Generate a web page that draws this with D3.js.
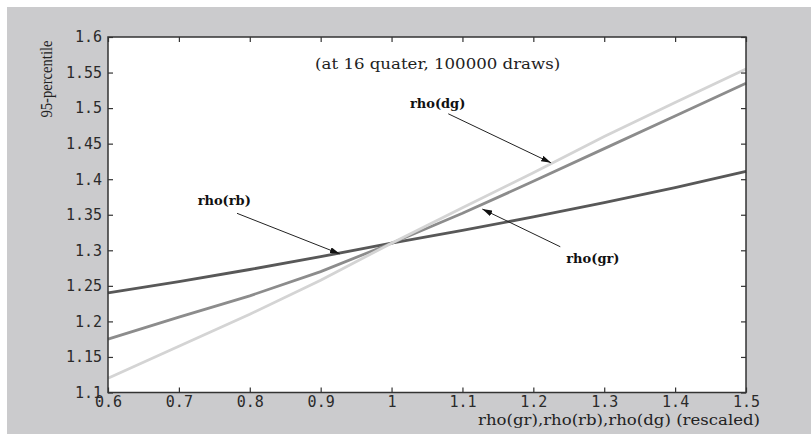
<!DOCTYPE html>
<html>
<head>
<meta charset="utf-8">
<script src="https://cdn.jsdelivr.net/npm/d3@7"></script>
<style>
	body { margin: 0; background: #fff; }
	svg { display: block; }
</style>
</head>
<body>
<div id="chart"></div>
<script>
// x positions (rescaled rho)
const xValues = [0.6, 0.7, 0.8, 0.9, 1.0, 1.1, 1.2, 1.3, 1.4, 1.5];
// 95-percentile at 16 quarters
const rhoRb = [1.240, 1.256, 1.273, 1.291, 1.310, 1.328, 1.347, 1.367, 1.388, 1.411];
const rhoGr = [1.175, 1.206, 1.236, 1.270, 1.310, 1.352, 1.397, 1.443, 1.489, 1.535];
const rhoDg = [1.120, 1.165, 1.210, 1.258, 1.310, 1.360, 1.409, 1.460, 1.508, 1.555];

const xTicks = [0.6, 0.7, 0.8, 0.9, 1, 1.1, 1.2, 1.3, 1.4, 1.5];
const yTicks = [1.1, 1.15, 1.2, 1.25, 1.3, 1.35, 1.4, 1.45, 1.5, 1.55, 1.6];

const series = [
	{ name: 'rho(rb)', values: rhoRb, color: '#585858' },
	{ name: 'rho(gr)', values: rhoGr, color: '#8c8c8c' },
	{ name: 'rho(dg)', values: rhoDg, color: '#d4d4d4' },
];

// label text, label centre, arrow start, arrow tip (data units)
const notes = [
	{ text: 'rho(dg)', at: [1.065, 1.507], from: [1.080, 1.492], to: [1.225, 1.423] },
	{ text: 'rho(rb)', at: [0.764, 1.370], from: [0.782, 1.352], to: [0.927, 1.295] },
	{ text: 'rho(gr)', at: [1.284, 1.288], from: [1.238, 1.305], to: [1.128, 1.358] },
];

const width = 811;
const height = 435;
const margin = { top: 37, right: 65, bottom: 42, left: 108 };

const svg = d3.select('#chart').append('svg')
	.attr('width', width)
	.attr('height', height);

// figure background
svg.append('rect')
	.attr('x', 7).attr('y', 7)
	.attr('width', width - 7).attr('height', height - 8)
	.attr('fill', '#cbcbcd');

const xScale = d3.scaleLinear()
	.domain([0.6, 1.5])
	.range([margin.left, width - margin.right]);

const yScale = d3.scaleLinear()
	.domain([1.1, 1.6])
	.range([height - margin.bottom - 0.5, margin.top]);

const x0 = xScale.range()[0], x1 = xScale.range()[1];
const y0 = yScale.range()[0], y1 = yScale.range()[1];

svg.append('rect')
	.attr('x', x0).attr('y', y1)
	.attr('width', x1 - x0).attr('height', y0 - y1)
	.attr('fill', '#fff');

// lines
const line = d3.line()
	.x((d, i) => xScale(xValues[i]))
	.y((d) => yScale(d));

svg.append('g')
	.selectAll('path')
	.data(series)
	.join('path')
	.attr('d', (d) => line(d.values))
	.attr('fill', 'none')
	.attr('stroke', (d) => d.color)
	.attr('stroke-width', 2.8);

// axes, ticks inward on every side
const tickFmt = (d) => String(+d.toFixed(2));
const axisStyle = (g) => {
	g.select('.domain').remove();
	g.selectAll('.tick line').attr('stroke', '#333').attr('stroke-width', 1.2);
	g.selectAll('.tick text')
		.attr('fill', '#2a2a2a')
		.style('font-family', '"DejaVu Sans Mono", monospace')
		.style('font-size', '15px');
};

svg.append('g')
	.attr('transform', `translate(0,${y0})`)
	.call(d3.axisBottom(xScale).tickValues(xTicks).tickFormat(tickFmt).tickSizeInner(-5).tickSizeOuter(0).tickPadding(4))
	.call(axisStyle);

svg.append('g')
	.attr('transform', `translate(0,${y1})`)
	.call(d3.axisTop(xScale).tickValues(xTicks).tickFormat('').tickSizeInner(-5).tickSizeOuter(0))
	.call(axisStyle);

svg.append('g')
	.attr('transform', `translate(${x0},0)`)
	.call(d3.axisLeft(yScale).tickValues(yTicks).tickFormat(tickFmt).tickSizeInner(-5).tickSizeOuter(0).tickPadding(6))
	.call(axisStyle);

svg.append('g')
	.attr('transform', `translate(${x1},0)`)
	.call(d3.axisRight(yScale).tickValues(yTicks).tickFormat('').tickSizeInner(-5).tickSizeOuter(0))
	.call(axisStyle);

svg.append('rect')
	.attr('x', x0).attr('y', y1)
	.attr('width', x1 - x0).attr('height', y0 - y1)
	.attr('fill', 'none')
	.attr('stroke', '#333')
	.attr('stroke-width', 1.5);

// axis titles
svg.append('text')
	.attr('x', 760).attr('y', 425)
	.attr('text-anchor', 'end')
	.attr('textLength', 282)
	.attr('lengthAdjust', 'spacingAndGlyphs')
	.style('font-family', '"DejaVu Serif", serif')
	.style('font-size', '14px')
	.attr('fill', '#222')
	.text('rho(gr),rho(rb),rho(dg) (rescaled)');

svg.append('text')
	.attr('transform', 'translate(52,79) rotate(-90)')
	.attr('text-anchor', 'middle')
	.attr('textLength', 77)
	.attr('lengthAdjust', 'spacingAndGlyphs')
	.style('font-family', '"Liberation Serif", serif')
	.style('font-size', '16px')
	.attr('fill', '#222')
	.text('95-percentile');

// chart note
svg.append('text')
	.attr('x', xScale(1.065)).attr('y', yScale(1.562))
	.attr('dy', '0.35em')
	.attr('text-anchor', 'middle')
	.attr('textLength', 245)
	.attr('lengthAdjust', 'spacingAndGlyphs')
	.style('font-family', '"DejaVu Serif", serif')
	.style('font-size', '14px')
	.attr('fill', '#222')
	.text('(at 16 quater, 100000 draws)');

// annotations with arrows
svg.append('defs').append('marker')
	.attr('id', 'head')
	.attr('viewBox', '0 0 10 6')
	.attr('refX', 10).attr('refY', 3)
	.attr('markerWidth', 10).attr('markerHeight', 6)
	.attr('markerUnits', 'userSpaceOnUse')
	.attr('orient', 'auto')
	.append('path')
	.attr('d', 'M0,0L10,3L0,6Z')
	.attr('fill', '#111');

const ann = svg.append('g');
ann.selectAll('line')
	.data(notes)
	.join('line')
	.attr('x1', (d) => xScale(d.from[0])).attr('y1', (d) => yScale(d.from[1]))
	.attr('x2', (d) => xScale(d.to[0])).attr('y2', (d) => yScale(d.to[1]))
	.attr('stroke', '#222')
	.attr('stroke-width', 1)
	.attr('marker-end', 'url(#head)');

ann.selectAll('text')
	.data(notes)
	.join('text')
	.attr('x', (d) => xScale(d.at[0])).attr('y', (d) => yScale(d.at[1]))
	.attr('dy', '0.35em')
	.attr('text-anchor', 'middle')
	.style('font-family', '"DejaVu Serif", serif')
	.style('font-weight', 'bold')
	.style('font-size', '13px')
	.attr('fill', '#111')
	.text((d) => d.text);
</script>
</body>
</html>
